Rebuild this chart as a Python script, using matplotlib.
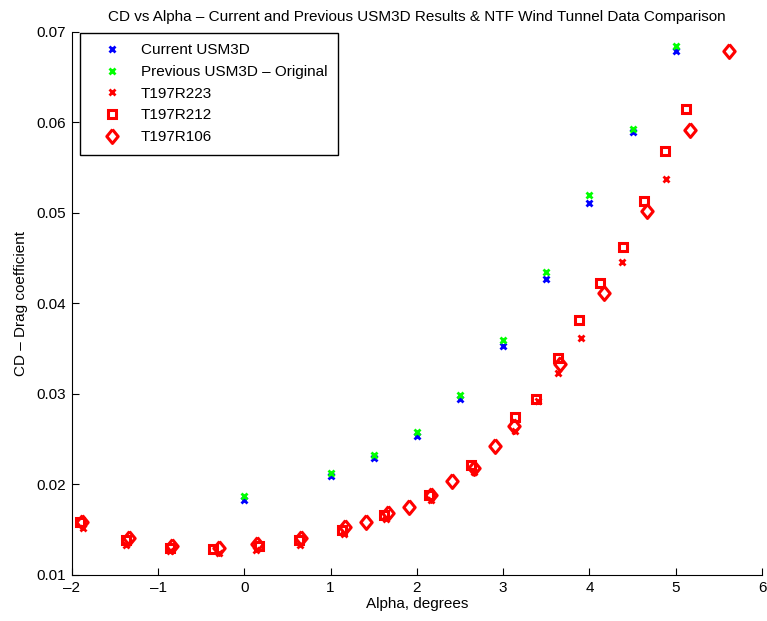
import matplotlib.pyplot as plt

plt.rcParams["font.family"] = ["Liberation Sans", "DejaVu Sans"]

# ====== Data ======
alpha_cfd = [0.0, 1.0, 1.5, 2.0, 2.5, 3.0, 3.5, 4.0, 4.5, 5.0]
cd_current = [0.0183, 0.0209, 0.0229, 0.0253, 0.0294, 0.0353, 0.0427, 0.0511, 0.0589, 0.0679]
cd_previous = [0.0187, 0.0213, 0.0232, 0.0258, 0.0299, 0.0360, 0.0435, 0.0520, 0.0592, 0.0684]

alpha_r223 = [-1.87, -1.37, -0.86, -0.29, 0.14, 0.64, 1.15, 1.64, 2.16, 2.66,
              3.14, 3.40, 3.63, 3.90, 4.38, 4.89]
cd_r223 = [0.0152, 0.0133, 0.0126, 0.0124, 0.0128, 0.0133, 0.0145, 0.0162, 0.0183, 0.0214,
           0.0259, 0.0292, 0.0323, 0.0362, 0.0446, 0.0537]

alpha_r212 = [-1.90, -1.37, -0.86, -0.36, 0.17, 0.63, 1.13, 1.62, 2.14, 2.63,
              3.14, 3.38, 3.63, 3.88, 4.12, 4.39, 4.63, 4.87, 5.12]
cd_r212 = [0.0158, 0.0139, 0.0130, 0.0129, 0.0132, 0.0139, 0.0150, 0.0166, 0.0188, 0.0221,
           0.0274, 0.0294, 0.0340, 0.0382, 0.0423, 0.0462, 0.0513, 0.0568, 0.0615]

alpha_r106 = [-1.88, -1.34, -0.84, -0.29, 0.15, 0.66, 1.17, 1.41, 1.66, 1.91,
              2.16, 2.41, 2.66, 2.90, 3.13, 3.66, 4.17, 4.67, 5.16, 5.62]
cd_r106 = [0.0158, 0.0141, 0.0132, 0.0130, 0.0134, 0.0141, 0.0153, 0.0158, 0.0168, 0.0175,
           0.0188, 0.0204, 0.0218, 0.0242, 0.0264, 0.0333, 0.0411, 0.0502, 0.0591, 0.0679]

# MATLAB style diamond: a bit taller than wide
diamond = [(0, 1), (0.82, 0), (0, -1), (-0.82, 0), (0, 1)]

# ====== Plot ======
fig = plt.figure(figsize=(7.67, 6.21), dpi=100)
ax = fig.add_axes([0.0935, 0.0741, 0.900, 0.8749])

ax.plot(alpha_cfd, cd_current, "x", color="#0000ff", ms=5, mew=2, label="Current USM3D")
ax.plot(alpha_cfd, cd_previous, "x", color="#00ff00", ms=5, mew=2,
        label="Previous USM3D \u2013 Original")
ax.plot(alpha_r223, cd_r223, "x", color="#ff0000", ms=5, mew=2, label="T197R223")
ax.plot(alpha_r212, cd_r212, "s", color="#ff0000", mfc="none", ms=6, mew=2.2,
        label="T197R212")
ax.plot(alpha_r106, cd_r106, marker=diamond, ls="none", color="#ff0000", mfc="none",
        ms=10, mew=2.2, label="T197R106")

ax.set_xlim(-2, 6)
ax.set_ylim(0.01, 0.07)
ax.set_xticks(range(-2, 7))
ax.set_xticklabels([str(t).replace("-", "\u2013") for t in range(-2, 7)])
ax.set_yticks([0.01, 0.02, 0.03, 0.04, 0.05, 0.06, 0.07])
ax.set_yticklabels(["0.01", "0.02", "0.03", "0.04", "0.05", "0.06", "0.07"])

for side in ("top", "right"):
    ax.spines[side].set_visible(False)
ax.tick_params(direction="in", length=5, labelsize=11, pad=4)

ax.set_xlabel("Alpha, degrees", fontsize=11, labelpad=2)
ax.set_ylabel("CD \u2013 Drag coefficient", fontsize=11, labelpad=6)
ax.set_title("CD vs Alpha \u2013 Current and Previous USM3D Results & NTF Wind Tunnel Data Comparison",
             fontsize=11, pad=8)

leg = ax.legend(loc="upper left", bbox_to_anchor=(0.012, 0.998), borderaxespad=0,
                fontsize=11, fancybox=False, edgecolor="black", framealpha=1,
                handlelength=2.8, handletextpad=0.5, borderpad=0.7, labelspacing=0.5)
leg.get_frame().set_linewidth(1.0)

fig.savefig("out.png", dpi=100)
